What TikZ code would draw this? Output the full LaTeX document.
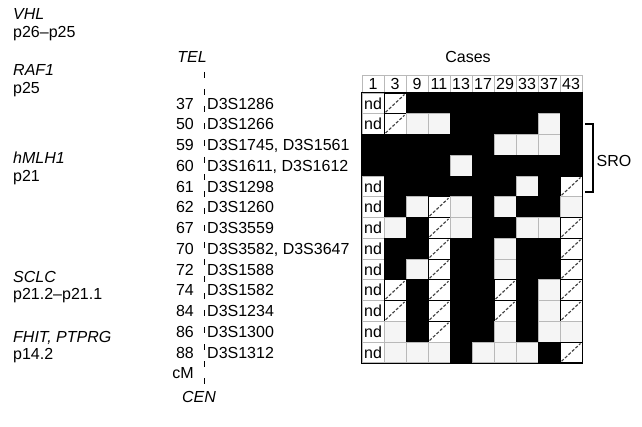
\documentclass[tikz,border=0pt]{standalone}
\usepackage{fontspec}
\setmainfont{Liberation Sans}
\begin{document}
\begin{tikzpicture}[x=1pt,y=-1pt,
  every node/.style={font=\fontsize{16}{18}\selectfont, inner sep=0pt, text height=11.4pt, text depth=0pt},
  gene/.style={anchor=west, font=\fontsize{16}{18}\selectfont\itshape},
  lbl/.style={anchor=west},
  cmlbl/.style={anchor=east},
  cellbase/.style={minimum width=22pt, minimum height=20.75pt, anchor=center},
  cellB/.style={fill=black, draw=black, line width=0.5pt},
  cellW/.style={fill=gray!8, draw=gray!55, line width=0.7pt},
  cellN/.style={fill=white, draw=gray!55, line width=0.7pt},
  cellH/.style={fill=white, draw=black, line width=0.9pt,
    path picture={\draw[black!75, dash pattern=on 3pt off 1.8pt, line width=1.1pt]
      ([shift={(1.5pt,1.5pt)}]path picture bounding box.south west) --
      ([shift={(-1.5pt,-1.5pt)}]path picture bounding box.north east);}},
  hdr/.style={minimum width=22pt, minimum height=17.6pt, fill=white, draw=gray!55, line width=0.7pt, anchor=center},
]
\useasboundingbox (0,0) rectangle (642,427);

% gene labels
\node[gene] (vhl) at (13,14) {VHL};
\node[lbl] (vhlp) at (13,32) {p26–p25};
\node[gene] (raf) at (13,70) {RAF1};
\node[lbl] (rafp) at (13,88) {p25};
\node[gene] (mlh) at (13,158) {hMLH1};
\node[lbl] (mlhp) at (13,176) {p21};
\node[gene] (sclc) at (13,277) {SCLC};
\node[lbl] (sclcp) at (13,294) {p21.2–p21.1};
\node[gene] (fhit) at (13,337) {FHIT, PTPRG};
\node[lbl] (fhitp) at (13,354) {p14.2};

% axis
\node[font=\fontsize{16}{18}\selectfont\itshape] (tel) at (192,57) {TEL};
\node[font=\fontsize{16}{18}\selectfont\itshape] (cen) at (199,397) {CEN};
\coordinate (axtop) at (204,72);
\coordinate (axbot) at (204,387);
\draw[line width=0.8pt, dash pattern=on 6pt off 11pt] (axtop) -- (axbot);

% row labels
\foreach \r/\cm/\mk in {1/37/D3S1286, 2/50/D3S1266, 3/59/{D3S1745, D3S1561}, 4/60/{D3S1611, D3S1612},
  5/61/D3S1298, 6/62/D3S1260, 7/67/D3S3559, 8/70/{D3S3582, D3S3647}, 9/72/D3S1588,
  10/74/D3S1582, 11/84/D3S1234, 12/86/D3S1300, 13/88/D3S1312}{
  \node[cmlbl] (cm\r) at (194,{93+(\r-0.5)*20.75}) {\cm};
  \node[lbl] (mk\r) at (207,{93+(\r-0.5)*20.75}) {\mk};
}
\node[cmlbl] (cmunit) at (194,373) {cM};

% header
\node (cases) at (468,57) {Cases};
\foreach \n [count=\c] in {1,3,9,11,13,17,29,33,37,43}{
  \node[hdr] (h\c) at ({362+(\c-0.5)*22},83.8) {\n};
}

% cells
\foreach \r/\lst in {
  1/{N,H,B,B,B,B,B,B,B,B},
  2/{N,H,W,W,B,B,B,B,W,B},
  3/{B,B,B,B,B,B,W,W,W,B},
  4/{B,B,B,B,W,B,B,B,B,B},
  5/{N,B,B,B,B,B,B,W,B,H},
  6/{N,B,W,H,W,B,W,B,B,W},
  7/{N,W,B,H,W,B,B,W,W,H},
  8/{N,B,B,H,B,B,W,B,B,H},
  9/{N,B,W,H,B,B,W,B,B,H},
  10/{N,H,B,H,B,B,H,B,W,H},
  11/{N,H,B,H,B,B,H,B,W,H},
  12/{N,W,B,H,B,B,W,B,W,W},
  13/{N,W,W,W,B,W,W,W,B,H}}{
  \foreach \s [count=\c] in \lst {
    \node[cellbase, cell\s] (c\r-\c) at ({362+(\c-0.5)*22},{93+(\r-0.5)*20.75}) {\if N\s nd\fi};
  }
}
\draw[line width=1pt] (c1-1.north west) rectangle (c13-10.south east);

% SRO bracket
\coordinate (sroA) at (585,124);
\coordinate (sroB) at (593,124);
\coordinate (sroC) at (593,192);
\coordinate (sroD) at (585,192);
\draw[line width=1.2pt] (sroA) -- (sroB) -- (sroC) -- (sroD);
\node (sro) at (614,161) {SRO};
\end{tikzpicture}
\end{document}
